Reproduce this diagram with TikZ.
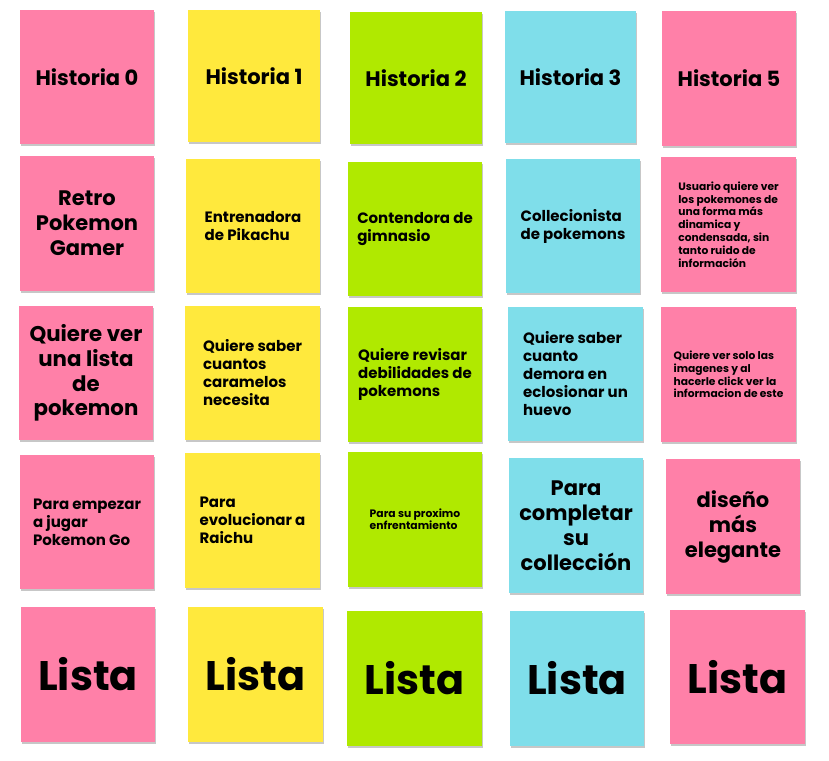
\documentclass[tikz,border=0pt]{standalone}
\usepackage{fontspec}
\setmainfont{Poppins}
\usetikzlibrary{shadows}
\definecolor{npink}{HTML}{FF80A8}
\definecolor{nyellow}{HTML}{FFE93D}
\definecolor{ngreen}{HTML}{B0E900}
\definecolor{ncyan}{HTML}{7FDEEA}
\tikzset{
  note/.style={rectangle, inner sep=0pt, text=black, draw=none,
    drop shadow={shadow xshift=0.6pt, shadow yshift=-1.6pt, opacity=0.22, fill=black}},
  sz/.style 2 args={minimum width=#1pt, minimum height=#2pt},
  ftitle/.style={font=\fontsize{21}{24}\selectfont\bfseries, align=center},
  fbig/.style={font=\fontsize{21}{25}\selectfont\bfseries, align=center},
  fmid/.style={font=\fontsize{15}{18}\selectfont\bfseries, align=left},
  fsmall/.style={font=\fontsize{10.7}{12.8}\selectfont\bfseries, align=left},
  ftiny/.style={font=\fontsize{10.8}{12.3}\selectfont\bfseries, align=left},
  flista/.style={font=\fontsize{41.3}{44}\selectfont\bfseries, align=center}
}
\begin{document}
\begin{tikzpicture}[x=1pt, y=-1pt]
\useasboundingbox[fill=white] (0,0) rectangle (829,760);
% Row 1
\node[note, fill=npink,   sz={134}{134}, ftitle] (h0) at (87,77)     {Historia 0};
\node[note, fill=nyellow, sz={132}{132}, ftitle] (h1) at (254,76)    {Historia 1};
\node[note, fill=ngreen,  sz={132}{132}, ftitle] (h2) at (416,78)    {Historia 2};
\node[note, fill=ncyan,   sz={131}{132}, ftitle] (h3) at (570.5,77)  {Historia 3};
\node[note, fill=npink,   sz={134}{135}, ftitle] (h5) at (729,78.5)  {Historia 5};
% Row 2
\node[note, fill=npink,   sz={134}{135}, fbig] (r0) at (87,223.5)   {Retro\\Pokemon\\Gamer};
\node[note, fill=nyellow, sz={134}{134}, fmid] (r1) at (253,226)    {Entrenadora\\de Pikachu};
\node[note, fill=ngreen,  sz={134}{134}, fmid] (r2) at (415,229)    {Contendora de\\gimnasio};
\node[note, fill=ncyan,   sz={134}{134}, fmid] (r3) at (573,226)    {Collecionista\\de pokemons};
\node[note, fill=npink,   sz={135}{135}, fsmall] (r5) at (728.5,224.5) {Usuario quiere ver\\los pokemones de\\una forma más\\dinamica y\\condensada, sin\\tanto ruido de\\información};
% Row 3
\node[note, fill=npink,   sz={134}{134}, fbig, font=\fontsize{21.3}{24.7}\selectfont\bfseries] (q0) at (86,373) {Quiere ver\\una lista\\de\\pokemon};
\node[note, fill=nyellow, sz={135}{134}, fmid] (q1) at (252.5,373)  {Quiere saber\\cuantos\\caramelos\\necesita};
\node[note, fill=ngreen,  sz={134}{135}, fmid] (q2) at (415,374.5)  {Quiere revisar\\debilidades de\\pokemons};
\node[note, fill=ncyan,   sz={135}{134}, fmid] (q3) at (575.5,374)  {Quiere saber\\cuanto\\demora en\\eclosionar un\\huevo};
\node[note, fill=npink,   sz={135}{135}, fsmall] (q5) at (728.5,374.5) {Quiere ver solo las\\imagenes y al\\hacerle click ver la\\informacion de este};
% Row 4
\node[note, fill=npink,   sz={134}{134}, fmid] (p0) at (87,522)     {Para empezar\\a jugar\\Pokemon Go};
\node[note, fill=nyellow, sz={135}{135}, fmid] (p1) at (252.5,520.5) {Para\\evolucionar a\\Raichu};
\node[note, fill=ngreen,  sz={134}{135}, ftiny] (p2) at (415,519.5) {Para su proximo\\enfrentamiento};
\node[note, fill=ncyan,   sz={134}{135}, fbig] (p3) at (576,525.5)  {Para\\completar\\su\\collección};
\node[note, fill=npink,   sz={134}{135}, fbig] (p5) at (733,526.5)  {diseño\\más\\elegante};
% Row 5
\node[note, fill=npink,   sz={134}{135}, flista] (l0) at (88,674.5)   {Lista};
\node[note, fill=nyellow, sz={135}{135}, flista] (l1) at (255.5,674.5) {Lista};
\node[note, fill=ngreen,  sz={135}{135}, flista] (l2) at (414.5,678.5) {Lista};
\node[note, fill=ncyan,   sz={134}{135}, flista] (l3) at (577,678.5)   {Lista};
\node[note, fill=npink,   sz={135}{134}, flista] (l5) at (737.5,677)   {Lista};
\end{tikzpicture}
\end{document}
